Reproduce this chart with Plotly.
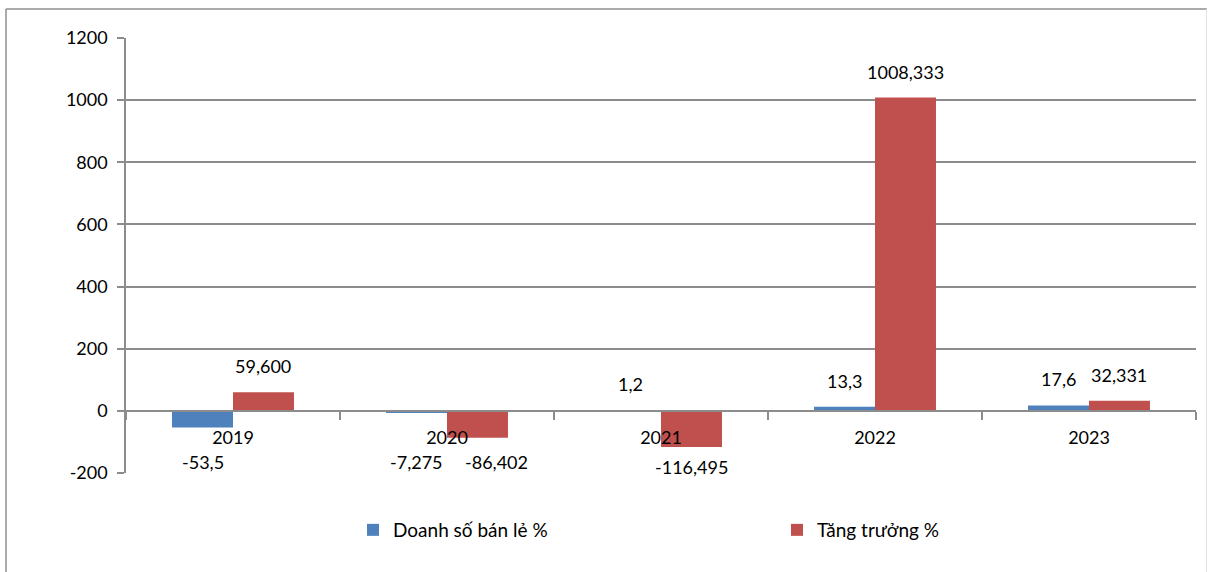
import plotly.graph_objects as go

# Chart data
years = ["2019", "2020", "2021", "2022", "2023"]
doanh_so = [-53.5, -7.275, 1.2, 13.3, 17.6]           # Doanh số bán lẻ %
tang_truong = [59.6, -86.402, -116.495, 1008.333, 32.331]  # Tăng trưởng %
y_ticks = [-200, 0, 200, 400, 600, 800, 1000, 1200]

BLUE = "#4F81BD"
RED = "#C0504D"
GRID = "#8c8c8c"
FONT = "Lato"

W, H = 1208, 572
ML, MR, MT, MB = 126, 12, 38, 99
PW, PH = W - ML - MR, H - MT - MB


def px_x(px):
    return (px - ML) / PW


def px_y(py):
    return (H - MB - py) / PH


def fmt_blue(v):
    return str(v).replace(".", ",")


def fmt_red(v):
    return f"{v:.3f}".replace(".", ",")


fig = go.Figure()
fig.add_trace(go.Bar(x=years, y=doanh_so, name="Doanh số bán lẻ %",
                     marker=dict(color=BLUE, line=dict(width=0))))
fig.add_trace(go.Bar(x=years, y=tang_truong, name="Tăng trưởng %",
                     marker=dict(color=RED, line=dict(width=0))))

bargap = 0.43
half_bar = PW / len(years) * (1 - bargap) / 4

annotations = []
for series, other, fmt, side in ((doanh_so, tang_truong, fmt_blue, -1),
                                 (tang_truong, doanh_so, fmt_red, 1)):
    for i, v in enumerate(series):
        lbl_font = dict(family=FONT, size=18, color="#000")
        if v >= 0:
            annotations.append(dict(x=i, y=v, xref="x", yref="y", text=fmt(v),
                                    showarrow=False, yanchor="bottom", yshift=13,
                                    xshift=side * half_bar, font=lbl_font))
        else:
            # nudge the right-hand label when both bars of a year are negative
            nudge = 19 if (side > 0 and other[i] < 0) else 0
            annotations.append(dict(x=i, y=min(v, -100), xref="x", yref="y", text=fmt(v),
                                    showarrow=False, yanchor="top", yshift=-7,
                                    xshift=side * half_bar + nudge, font=lbl_font))

# outer chart frame (top and left in grey, right faint)
shapes = [
    dict(type="line", xref="paper", yref="paper", x0=px_x(6), x1=px_x(1207),
         y0=px_y(9), y1=px_y(9), line=dict(color="#8f8f8f", width=1.5)),
    dict(type="line", xref="paper", yref="paper", x0=px_x(6), x1=px_x(6),
         y0=px_y(9), y1=px_y(572), line=dict(color="#8f8f8f", width=1.5)),
    dict(type="line", xref="paper", yref="paper", x0=px_x(1206.5), x1=px_x(1206.5),
         y0=px_y(9), y1=px_y(572), line=dict(color="#e3e3e3", width=1)),
]

fig.update_layout(
    width=W, height=H,
    margin=dict(l=ML, r=MR, t=MT, b=MB, autoexpand=False),
    paper_bgcolor="white", plot_bgcolor="white",
    barmode="group", bargap=bargap, bargroupgap=0,
    font=dict(family=FONT, size=18, color="#000"),
    annotations=annotations,
    shapes=shapes,
    showlegend=True,
    legend=dict(orientation="h", x=px_x(353), y=px_y(530), xanchor="left", yanchor="middle",
                entrywidth=379, entrywidthmode="pixels",
                font=dict(family=FONT, size=19, color="#000"),
                bgcolor="rgba(0,0,0,0)"),
    xaxis=dict(type="category", range=[-0.5, len(years) - 0.5],
               anchor="free", position=200 / 1400,
               showline=True, linecolor=GRID, linewidth=1.5,
               ticks="outside", tickson="boundaries", ticklen=8, tickcolor=GRID, tickwidth=1.5,
               showgrid=False, ticklabelstandoff=11,
               tickfont=dict(family=FONT, size=18, color="#000")),
    yaxis=dict(range=[-200, 1200], tickvals=y_ticks, ticktext=[str(t) for t in y_ticks],
               showgrid=True, gridcolor=GRID, gridwidth=1.5,
               zeroline=True, zerolinecolor=GRID, zerolinewidth=1.5,
               showline=True, linecolor=GRID, linewidth=1.5,
               ticks="outside", ticklen=7, tickcolor=GRID, tickwidth=1.5,
               ticklabelstandoff=6,
               tickfont=dict(family=FONT, size=18, color="#000")),
)

fig.write_html("out.html")
